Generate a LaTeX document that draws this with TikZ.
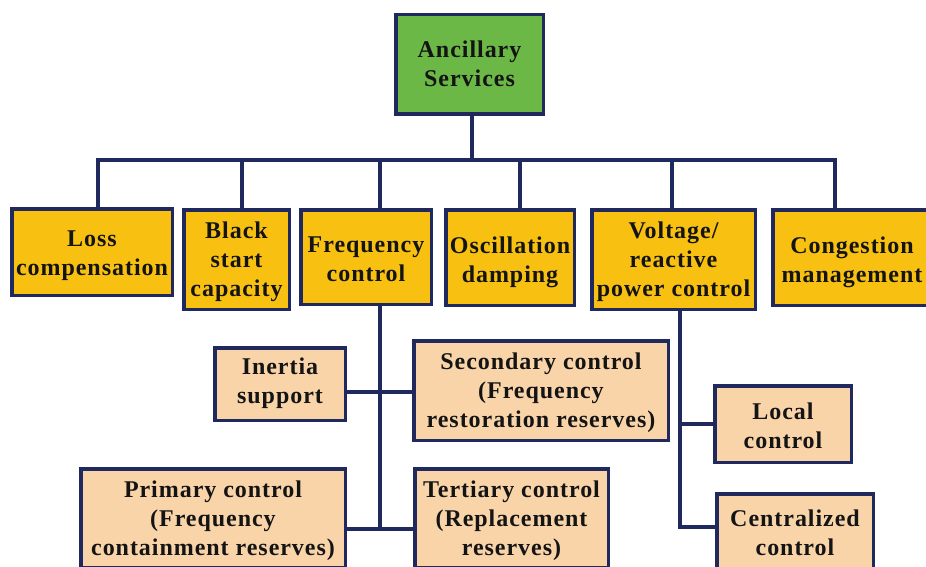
\documentclass[tikz,border=0pt]{standalone}
\usepackage{fontspec}
\newfontfamily\bfont{Liberation Serif Bold}[LetterSpace=4]
\definecolor{navy}{HTML}{1F295E}
\definecolor{gold}{HTML}{F8C112}
\definecolor{peach}{HTML}{F9D4A9}
\definecolor{leaf}{HTML}{6CB846}
\definecolor{txt}{HTML}{141414}
\def\dropval{0pt}
\newcommand\boxlines[1]{\raisebox{-\dropval}[\height][\depth]{\begin{tabular}{@{}c@{}}#1\end{tabular}}}
\tikzset{
  drop/.store in=\dropval,
  box/.style={draw=navy, line width=3.5pt, rectangle, inner sep=0pt,
    text=txt, font={\bfont\fontsize{24pt}{29pt}\selectfont}},
  rootbox/.style={box, fill=leaf, drop=1.5pt},
  topbox/.style={box, fill=gold, drop=3.5pt},
  subbox/.style={box, fill=peach, drop=2.5pt},
  link/.style={draw=navy, line width=3.5pt, line join=miter},
}
\begin{document}
\begin{tikzpicture}[x=1pt,y=-1pt]
\useasboundingbox (0,0) rectangle (926,567);
\clip (0,0) rectangle (926,567);
% root
\node[rootbox, minimum width=147.5, minimum height=99.5] (root) at (469.5,64.5) {\boxlines{Ancillary\\Services}};
% first level
\node[topbox, drop=3pt, minimum width=160.5, minimum height=86.5] (loss) at (92,252) {\boxlines{Loss\\compensation}};
\node[topbox, drop=2.5pt, minimum width=105.5, minimum height=99.5] (black) at (236.5,259.5) {\boxlines{Black\\start\\capacity}};
\node[topbox, drop=4pt, minimum width=130.5, minimum height=94.5] (freq) at (366,257) {\boxlines{Frequency\\control}};
\node[topbox, drop=5pt, minimum width=128.5, minimum height=95.5] (osc) at (510,257.5) {\boxlines{Oscillation\\damping}};
\node[topbox, drop=2.5pt, minimum width=163.5, minimum height=99.5] (volt) at (673.5,259.5) {\boxlines{Voltage/\\reactive\\power control}};
\node[topbox, drop=5pt, minimum width=158.5, minimum height=95.5] (cong) at (852,257.5) {\boxlines{Congestion\\management}};
% second level
\node[subbox, drop=-1pt, minimum width=130.5, minimum height=72.5] (inertia) at (280,384) {\boxlines{Inertia\\support}};
\node[subbox, drop=2pt, minimum width=254.5, minimum height=99.5] (secondary) at (541,390.5) {\boxlines{Secondary control\\(Frequency\\restoration reserves)}};
\node[subbox, drop=2.5pt, minimum width=264.5, minimum height=98.5] (primary) at (213,518) {\boxlines{Primary control\\(Frequency\\containment reserves)}};
\node[subbox, drop=3pt, minimum width=193.5, minimum height=98.5] (tertiary) at (511.5,518) {\boxlines{Tertiary control\\(Replacement\\reserves)}};
\node[subbox, drop=4pt, minimum width=136.5, minimum height=76.5] (local) at (783,424) {\boxlines{Local\\control}};
\node[subbox, drop=2.5pt, minimum width=156.5, minimum height=78.5] (central) at (795,533) {\boxlines{Centralized\\control}};
% bus coordinates
\coordinate (bus) at (472,160);
\coordinate (c1) at (98,160);
\coordinate (c2) at (242,160);
\coordinate (c3) at (380,160);
\coordinate (c4) at (520,160);
\coordinate (c5) at (672,160);
\coordinate (c6) at (835,160);
\coordinate (ft) at (380,529);
\coordinate (f1) at (380,392);
\coordinate (vt) at (680,527);
\coordinate (v1) at (680,424);
% connectors
\draw[link] (root.south -| bus) -- (bus);
\draw[link] (c1 |- loss.north) -- (c1) -- (c6) -- (c6 |- cong.north);
\draw[link] (c2) -- (c2 |- black.north);
\draw[link] (c3) -- (c3 |- freq.north);
\draw[link] (c4) -- (c4 |- osc.north);
\draw[link] (c5) -- (c5 |- volt.north);
\draw[link] (freq.south -| ft) -- (ft);
\draw[link] (f1 -| inertia.east) -- (f1 -| secondary.west);
\draw[link] (ft -| primary.east) -- (ft -| tertiary.west);
\draw[link] (volt.south -| vt) -- (vt) -- (vt -| central.west);
\draw[link] (v1) -- (v1 -| local.west);
\end{tikzpicture}
\end{document}
